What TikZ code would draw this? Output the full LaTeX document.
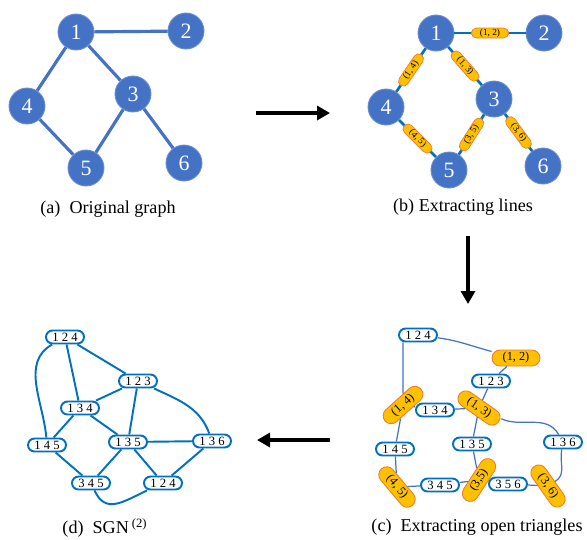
\documentclass[tikz,border=0pt]{standalone}
\usepackage{fontspec}
\setmainfont{Liberation Serif}
\usepackage{xcolor}
\usetikzlibrary{arrows.meta,calc,positioning}
\definecolor{vblue}{HTML}{4472C4}
\definecolor{lblue}{HTML}{0070C0}
\definecolor{porange}{HTML}{FFC000}
\definecolor{pedge}{HTML}{ED7D31}
\tikzset{%
	vtx/.style      = {circle, fill=vblue, draw=vblue!80!white, line width=0.5pt, minimum size=0.72cm, inner sep=0pt, text=white, font=\fontsize{12.5}{12.5}\selectfont},
	edgea/.style    = {draw=vblue, line width=1.8pt},
	edgeb/.style    = {draw=lblue, line width=1.5pt},
	edgec/.style    = {draw=vblue, line width=0.7pt},
	edged/.style    = {draw=lblue, line width=1.1pt},
	pillb/.style    = {fill=porange, draw=pedge, line width=0.4pt, rounded corners=0.1cm, minimum width=0.74cm, minimum height=0.2cm, inner sep=0pt, font=\fontsize{5.3}{5.3}\selectfont},
	pillc/.style    = {fill=porange, draw=pedge, line width=0.5pt, rounded corners=0.16cm, minimum width=0.96cm, minimum height=0.32cm, inner sep=0pt, font=\fontsize{7}{7}\selectfont},
	tri/.style      = {fill=white, draw=lblue, line width=1.1pt, rounded corners=0.13cm, minimum width=0.76cm, minimum height=0.26cm, inner sep=0pt, font=\fontsize{7.2}{7.2}\selectfont},
	caption/.style  = {font=\fontsize{10.3}{12}\selectfont},
	bigarrow/.style = {line width=2.8pt, -{Triangle[length=0.26cm,width=0.28cm]}},
}

\begin{document}
\begin{tikzpicture}[x=0.02cm,y=0.02cm]
	\useasboundingbox (0,0) rectangle (587,-539);
	
	% (a) original graph
	\node[vtx] (a1) at (76,-32) {1};
	\node[vtx] (a2) at (186,-31) {2};
	\node[vtx] (a3) at (133,-94) {3};
	\node[vtx] (a4) at (27,-106) {4};
	\node[vtx] (a5) at (86,-168) {5};
	\node[vtx] (a6) at (184,-163) {6};
	\foreach \s/\t in {1/2,1/3,1/4,3/5,4/5,3/6} \draw[edgea] (a\s) -- (a\t);
	\node[caption] (capa) at (108,-209) {(a)\ \ Original graph};
	
	% (b) lines
	\node[vtx] (b1) at (436,-33) {1};
	\node[vtx] (b2) at (544,-33) {2};
	\node[vtx] (b3) at (494,-99) {3};
	\node[vtx] (b4) at (386,-107) {4};
	\node[vtx] (b5) at (449,-170) {5};
	\node[vtx] (b6) at (543,-166) {6};
	\foreach \s/\t in {1/2,1/3,1/4,3/5,4/5,3/6} \draw[edgeb] (b\s) -- node[pillb, midway, sloped] (l\s\t) {(\s, \t)} (b\t);
	\node[caption] (capb) at (463,-207) {(b) Extracting lines};
	
	\coordinate (r0) at (256,-113);
	\coordinate (r1) at (330,-113);
	\draw[bigarrow] (r0) -- (r1);
	\coordinate (d0) at (468,-236);
	\coordinate (d1) at (468,-304);
	\draw[bigarrow] (d0) -- (d1);
	\coordinate (l0) at (330,-440);
	\coordinate (l1) at (257,-440);
	\draw[bigarrow] (l0) -- (l1);
	
	% (c) open triangles
	\node[tri] (c124) at (418,-335) {1 2 4};
	\node[pillc] (c12) at (516,-358) {(1, 2)};
	\node[tri] (c123) at (491,-381) {1 2 3};
	\node[pillc, rotate=42] (c14) at (403,-405) {(1, 4)};
	\node[tri] (c134) at (435,-410) {1 3 4};
	\node[pillc, rotate=-35] (c13) at (479,-408) {(1, 3)};
	\node[tri] (c145) at (395,-449) {1 4 5};
	\node[tri] (c135) at (472,-444) {1 3 5};
	\node[tri] (c136) at (563,-442) {1 3 6};
	\node[pillc, rotate=-50] (c45) at (397,-487) {(4, 5)};
	\node[tri] (c345) at (440,-485) {3 4 5};
	\node[pillc, rotate=57] (c35) at (479,-480) {(3,5)};
	\node[tri] (c356) at (508,-484) {3 5 6};
	\node[pillc, rotate=-55] (c36) at (548,-486) {(3, 6)};
	\draw[edgec] (c124) to[out=-8,in=165] (c12);
	\draw[edgec] (c14 |- c124.south) -- (c14);
	\foreach \s/\t in {c12/c123,c123/c13,c14/c134,c134/c13,c14/c145,c145/c45,c13/c135,c135/c35,c45/c345,c345/c35,c35/c356,c356/c36} \draw[edgec] (\s) -- (\t);
	\draw[edgec] (c13) to[out=-8,in=120] (c136);
	\draw[edgec] (c136) to[out=-100,in=55] (c36);
	\node[caption] (capc) at (477,-527) {(c)\ \ Extracting open triangles};
	
	% (d) SGN
	\node[tri] (d124) at (65,-337) {1 2 4};
	\node[tri] (d123) at (138,-381) {1 2 3};
	\node[tri] (d134) at (80,-408) {1 3 4};
	\node[tri] (d145) at (47,-445) {1 4 5};
	\node[tri] (d135) at (128,-442) {1 3 5};
	\node[tri] (d136) at (212,-441) {1 3 6};
	\node[tri] (d345) at (91,-483) {3 4 5};
	\node[tri] (d124x) at (163,-483) {1 2 4};
	\foreach \s/\t in {d124/d134,d124/d123,d123/d134,d123/d135,d134/d145,d134/d135,d135/d136,d145/d345,d135/d345,d135/d124x,d136/d124x} \draw[edged] (\s) -- (\t);
	\draw[edged] (d124) to[out=210,in=95] (d145);
	\draw[edged] (d123) to[out=-25,in=110] (d136);
	\draw[edged] (d345) to[out=-65,in=205,looseness=1.3] (d124x);
	\node[caption] (capd) at (105,-528) {(d)\ \ SGN\,\textsuperscript{(2)}};
\end{tikzpicture}
\end{document}
